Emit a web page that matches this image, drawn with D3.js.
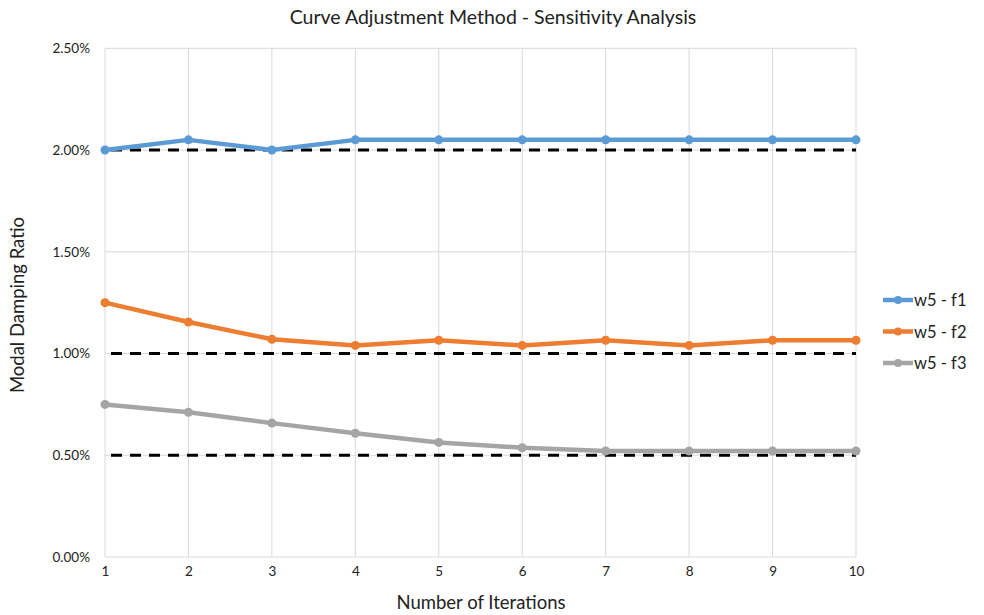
<!DOCTYPE html>
<html><head><meta charset="utf-8">
<script src="https://cdn.jsdelivr.net/npm/d3@7"></script>
<style>body{margin:0;background:#fff}svg{display:block}text{font-family:Lato,"Open Sans",sans-serif}</style>
</head><body><svg id="c" width="984" height="615"></svg>
<script>
const iterations = [1,2,3,4,5,6,7,8,9,10];
const seriesNames = ["w5 - f1","w5 - f2","w5 - f3"];
const f1 = [2.00,2.05,2.00,2.05,2.05,2.05,2.05,2.05,2.05,2.05];
const f2 = [1.25,1.155,1.07,1.04,1.065,1.04,1.065,1.04,1.065,1.065];
const f3 = [0.75,0.711,0.658,0.608,0.563,0.537,0.521,0.521,0.521,0.521];
const targets = [2.0,1.0,0.5];
const yTicks = [0,0.5,1.0,1.5,2.0,2.5];
const colors = ["#5B9BD5","#ED7D31","#A5A5A5"];

const svg = d3.select("#c");
const x = d3.scaleLinear().domain([1,10]).range([105,856]);
const y = d3.scaleLinear().domain([0,2.5]).range([557,48.3]);

// gridlines
svg.append("g").selectAll("line").data(yTicks).join("line")
  .attr("x1",105).attr("x2",856).attr("y1",d=>y(d)).attr("y2",d=>y(d))
  .attr("stroke","#D9D9D9").attr("stroke-width",1);
svg.append("g").selectAll("line").data(iterations).join("line")
  .attr("x1",d=>x(d)).attr("x2",d=>x(d)).attr("y1",y(0)).attr("y2",y(2.5))
  .attr("stroke","#D9D9D9").attr("stroke-width",1);

// axes labels
const yAxis = d3.axisLeft(y).tickValues(yTicks).tickFormat(d=>d.toFixed(2)+"%").tickSize(0).tickPadding(15);
const gy = svg.append("g").attr("transform","translate(105,0)").call(yAxis);
gy.select(".domain").remove();
gy.selectAll("text").attr("font-size",13.5).attr("fill","#222").style("font-family","Lato,'Open Sans',sans-serif");
const xAxis = d3.axisBottom(x).tickValues(iterations).tickFormat(d3.format("d")).tickSize(0).tickPadding(9);
const gx = svg.append("g").attr("transform",`translate(0,${y(0)})`).call(xAxis);
gx.select(".domain").remove();
gx.selectAll("text").attr("font-size",13.5).attr("fill","#222").style("font-family","Lato,'Open Sans',sans-serif");

// target dashed lines
svg.append("g").selectAll("line").data(targets).join("line")
  .attr("x1",x(1)).attr("x2",x(10)).attr("y1",d=>y(d)).attr("y2",d=>y(d))
  .attr("stroke","#000").attr("stroke-width",3).attr("stroke-dasharray","11,8").attr("stroke-dashoffset",-6);

// series
const allSeries = [f1,f2,f3];
const line = d3.line().x((d,i)=>x(iterations[i])).y(d=>y(d));
allSeries.forEach((s,k)=>{
  svg.append("path").datum(s).attr("d",line).attr("fill","none")
    .attr("stroke",colors[k]).attr("stroke-width",4.5).attr("stroke-linejoin","round");
  svg.append("g").selectAll("circle").data(s).join("circle")
    .attr("cx",(d,i)=>x(iterations[i])).attr("cy",d=>y(d)).attr("r",4.5).attr("fill",colors[k]);
});

// legend
const lg = svg.append("g");
seriesNames.forEach((n,k)=>{
  const ly = 300 + k*31.5;
  lg.append("line").attr("x1",883).attr("x2",913).attr("y1",ly).attr("y2",ly).attr("stroke",colors[k]).attr("stroke-width",4.5);
  lg.append("circle").attr("cx",898).attr("cy",ly).attr("r",4).attr("fill",colors[k]);
  lg.append("text").attr("x",914).attr("y",ly+6).attr("font-size",16.5).attr("fill","#222").text(n);
});

// titles
svg.append("text").attr("x",493).attr("y",24).attr("text-anchor","middle").attr("font-size",19.5).attr("fill","#222").text("Curve Adjustment Method - Sensitivity Analysis");
svg.append("text").attr("x",481).attr("y",609).attr("text-anchor","middle").attr("font-size",18.5).attr("fill","#222").text("Number of Iterations");
svg.append("text").attr("transform","translate(24,305) rotate(-90)").attr("text-anchor","middle").attr("font-size",18.5).attr("fill","#222").text("Modal Damping Ratio");
</script></body></html>
